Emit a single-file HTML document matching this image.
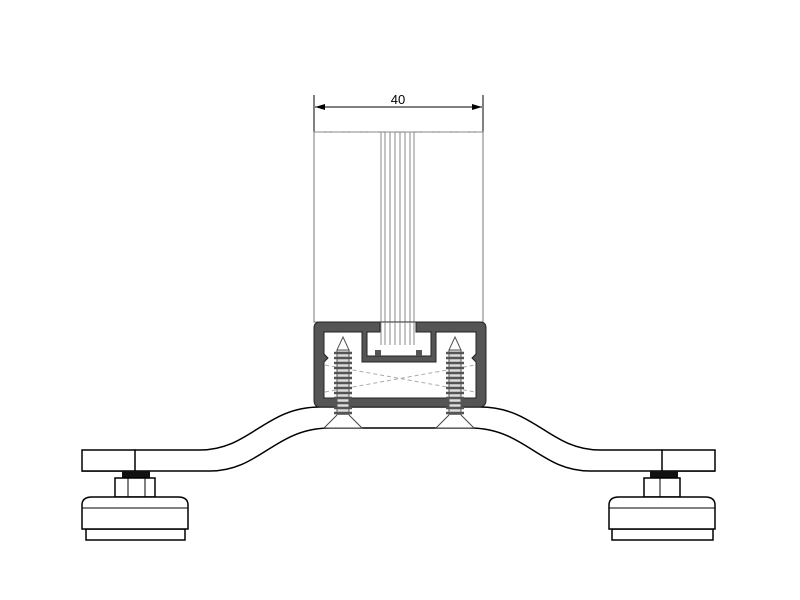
<!DOCTYPE html>
<html><head><style>body{margin:0;background:#fff}svg{display:block}</style></head><body>
<svg width="800" height="600" viewBox="0 0 800 600" xmlns="http://www.w3.org/2000/svg" font-family="Liberation Sans, sans-serif">
<defs>
<marker id="a" markerWidth="10" markerHeight="6" refX="10" refY="3" orient="auto-start-reverse" markerUnits="userSpaceOnUse"><path d="M0,0 L10,3 L0,6z" fill="#000"/></marker>
<g id="screw">
<path d="M-6,350 L0,337 L6,350 Z" fill="#fff" stroke="#555" stroke-width="1"/>
<rect x="-6" y="350" width="12" height="65" fill="#ddd" stroke="#555"/>
<g stroke="#555" stroke-width="2.5">
<line x1="-9" y1="353" x2="9" y2="353"/><line x1="-9" y1="358" x2="9" y2="358"/><line x1="-9" y1="363" x2="9" y2="363"/><line x1="-9" y1="368" x2="9" y2="368"/><line x1="-9" y1="373" x2="9" y2="373"/><line x1="-9" y1="378" x2="9" y2="378"/><line x1="-9" y1="383" x2="9" y2="383"/><line x1="-9" y1="388" x2="9" y2="388"/><line x1="-9" y1="393" x2="9" y2="393"/><line x1="-9" y1="398" x2="9" y2="398"/><line x1="-9" y1="403" x2="9" y2="403"/><line x1="-9" y1="408" x2="9" y2="408"/><line x1="-9" y1="413" x2="9" y2="413"/>
</g>
<path d="M-6,415 L-19,428 L19,428 L6,415" fill="#fff" stroke="#444"/>
</g>
</defs>
<line x1="314" y1="95" x2="314" y2="132" stroke="#000"/>
<line x1="483" y1="95" x2="483" y2="132" stroke="#000"/>
<line x1="315" y1="107" x2="482" y2="107" stroke="#000" marker-start="url(#a)" marker-end="url(#a)"/>
<text x="398" y="104" font-size="13" text-anchor="middle">40</text>
<rect x="314" y="132" width="169" height="190" fill="#fff" stroke="#777"/>
<line x1="314" y1="132" x2="483" y2="132" stroke="#888" stroke-dasharray="10,3,2,3"/>
<g stroke="#888"><line x1="381" y1="132" x2="381" y2="345"/><line x1="385" y1="132" x2="385" y2="345"/><line x1="390" y1="132" x2="390" y2="345"/><line x1="395" y1="132" x2="395" y2="345"/><line x1="400" y1="132" x2="400" y2="345"/><line x1="405" y1="132" x2="405" y2="345"/><line x1="410" y1="132" x2="410" y2="345"/><line x1="414" y1="132" x2="414" y2="345"/></g>
<path d="M135,450 L200,450 C250,450 265,407 320,407 L480,407 C535,407 550,450 600,450 L662,450" fill="none" stroke="#000" stroke-width="1.5"/>
<path d="M82,471 L210,471 C260,471 275,428 330,428 L470,428 C525,428 540,471 590,471 L715,471" fill="none" stroke="#000" stroke-width="1.5"/>
<rect x="82" y="450" width="53" height="21" fill="#fff" stroke="#000" stroke-width="1.5"/>
<rect x="662" y="450" width="53" height="21" fill="#fff" stroke="#000" stroke-width="1.5"/>
<path fill-rule="evenodd" fill="#555" stroke="#222" d="M320,322 L480,322 Q486,322 486,328 L486,400 Q486,407 479,407 L320,407 Q314,407 314,400 L314,328 Q314,322 320,322 Z
M324,332 L362,332 L362,362 L436,362 L436,332 L476,332 L476,354 L472,358 L476,362 L476,398 L324,398 L324,362 L328,358 L324,354 Z"/>
<path fill="#fff" stroke="#222" d="M367,332 L380,332 L380,322 L416,322 L416,332 L431,332 L431,356 L367,356 Z"/>
<g stroke="#888"><line x1="381" y1="322" x2="381" y2="345"/><line x1="385" y1="322" x2="385" y2="345"/><line x1="390" y1="322" x2="390" y2="345"/><line x1="395" y1="322" x2="395" y2="345"/><line x1="400" y1="322" x2="400" y2="345"/><line x1="405" y1="322" x2="405" y2="345"/><line x1="410" y1="322" x2="410" y2="345"/><line x1="414" y1="322" x2="414" y2="345"/></g>
<g fill="#555"><rect x="375" y="350" width="6" height="6"/><rect x="416" y="350" width="6" height="6"/></g>
<path d="M325,365 L475,392 M325,392 L475,365" stroke="#aaa" stroke-dasharray="4,3" fill="none"/>
<use href="#screw" transform="translate(343,0)"/>
<use href="#screw" transform="translate(455,0)"/>
<g>
<rect x="122" y="471" width="28" height="8" fill="#111"/>
<rect x="115" y="478" width="40" height="19" fill="#fff" stroke="#000" stroke-width="1.5"/>
<line x1="128" y1="478" x2="128" y2="497" stroke="#000"/><line x1="145" y1="478" x2="145" y2="497" stroke="#000"/>
<rect x="86" y="529" width="99" height="11" fill="#fff" stroke="#000" stroke-width="1.5"/>
<path d="M82,529 L82,505 Q82,497 92,497 L178,497 Q188,497 188,505 L188,529 Z" fill="#fff" stroke="#000" stroke-width="1.5"/>
<line x1="82" y1="508" x2="188" y2="508" stroke="#000"/>
</g>
<g>
<rect x="650" y="471" width="28" height="8" fill="#111"/>
<rect x="644" y="478" width="36" height="19" fill="#fff" stroke="#000" stroke-width="1.5"/>
<line x1="660" y1="478" x2="660" y2="497" stroke="#000"/>
<rect x="612" y="529" width="101" height="11" fill="#fff" stroke="#000" stroke-width="1.5"/>
<path d="M609,529 L609,505 Q609,497 619,497 L705,497 Q715,497 715,505 L715,529 Z" fill="#fff" stroke="#000" stroke-width="1.5"/>
<line x1="609" y1="508" x2="715" y2="508" stroke="#000"/>
</g>
</svg>
</body></html>
